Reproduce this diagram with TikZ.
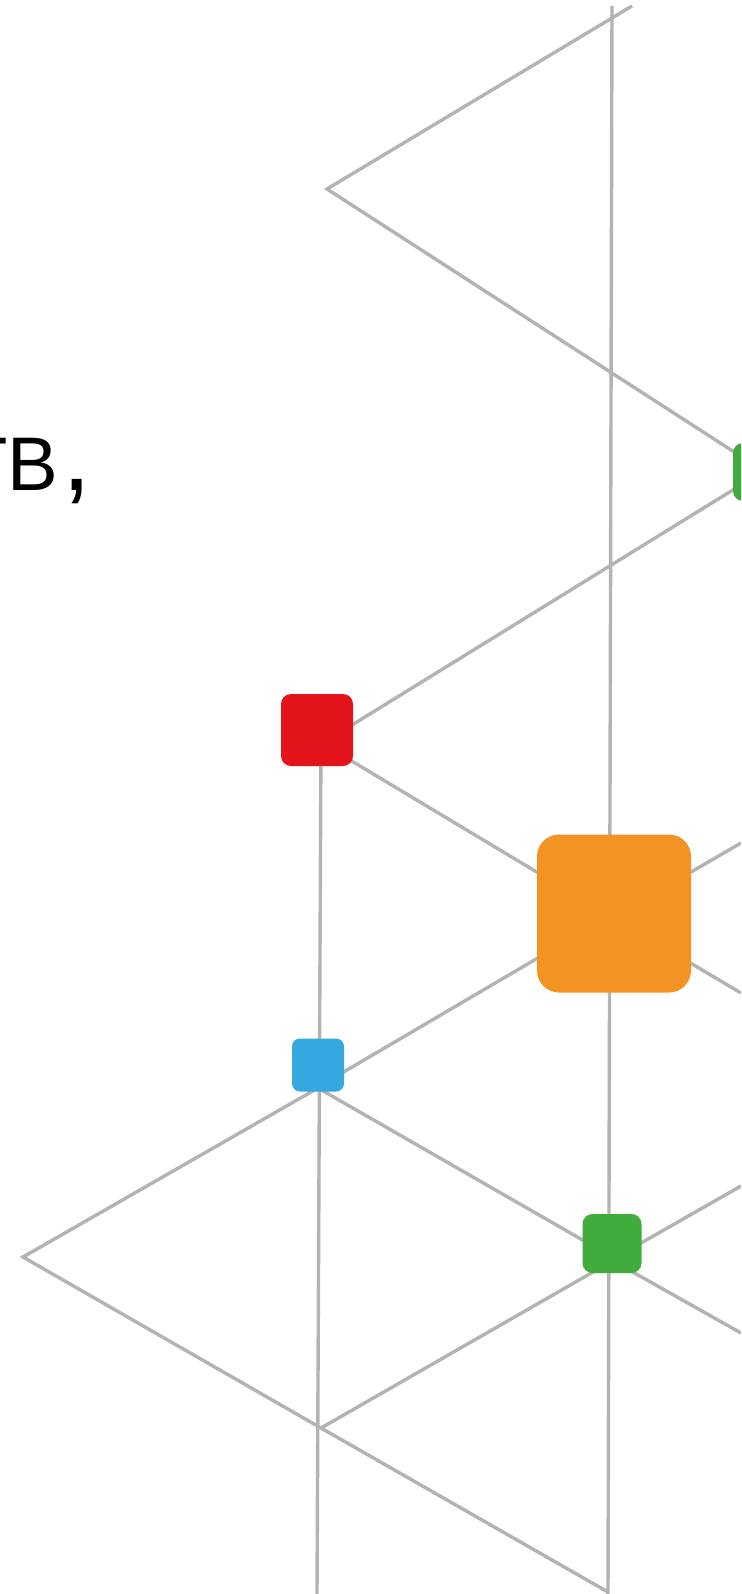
\documentclass[tikz,border=0pt]{standalone}
\usepackage{fontspec}
\setmainfont{Liberation Sans}
\definecolor{linegray}{HTML}{B3B3B3}
\definecolor{nred}{HTML}{E3141B}
\definecolor{norange}{HTML}{F39324}
\definecolor{nblue}{HTML}{35A8E0}
\definecolor{ngreen}{HTML}{41AB3C}
\tikzset{
  edge/.style={draw=linegray, line width=3.4pt},
  sq/.style={rectangle, inner sep=0pt, draw=none},
}
\begin{document}
\begin{tikzpicture}[x=1pt,y=-1pt]
\useasboundingbox (0,0) rectangle (741,1594);
\fill[white] (0,0) rectangle (741,1594);
\clip (0,0) rectangle (741,1594);
% coordinates
\coordinate (top1) at (632,6);
\coordinate (apexT) at (327,189);
\coordinate (vtop) at (612,6);
\coordinate (vbot) at (608,1594);
\coordinate (lvtop) at (321,740);
\coordinate (lvbot) at (317,1594);
\coordinate (apexL) at (23,1257);
\coordinate (vx) at (321,1428);
\coordinate (bot) at (608,1592);
\coordinate (eR1) at (741,843);
\coordinate (eR2) at (741,993);
\coordinate (eR3) at (741,1186);
\coordinate (eR4) at (741,1333);
% lines
\draw[edge] (top1) -- (apexT) -- (762,470);
\draw[edge] (vtop) -- (vbot);
\draw[edge] (762,472) -- (352,725) -- (330,738);
\draw[edge] (330,748) -- (600,910);
\draw[edge] (lvtop) -- (lvbot);
\draw[edge] (660,890) -- (eR1);
\draw[edge] (660,945) -- (eR2);
\draw[edge] (560,945) -- (330,1080);
\draw[edge] (318,1088) -- (apexL) -- (vx) -- (bot);
\draw[edge] (318,1088) -- (600,1250);
\draw[edge] (620,1255) -- (eR3);
\draw[edge] (615,1262) -- (eR4);
\draw[edge] (600,1268) -- (vx);
% nodes
\node[sq, fill=ngreen, minimum width=58pt, minimum height=58pt, rounded corners=10pt] (gU) at (762,472) {};
\node[sq, fill=nred, minimum width=72pt, minimum height=72pt, rounded corners=10pt] (red) at (317,730) {};
\node[sq, fill=norange, minimum width=154pt, minimum height=158pt, rounded corners=22pt] (orange) at (614,913.5) {};
\node[sq, fill=nblue, minimum width=52pt, minimum height=53pt, rounded corners=8pt] (blue) at (318,1065) {};
\node[sq, fill=ngreen, minimum width=59pt, minimum height=59pt, rounded corners=10pt] (gL) at (612,1243.5) {};
% text
\node[anchor=base west, inner sep=0pt, font=\fontsize{76}{82}\selectfont] (txt) at (-39,490) {TB\kern4pt{\fontsize{104}{110}\selectfont,}};
\end{tikzpicture}
\end{document}
